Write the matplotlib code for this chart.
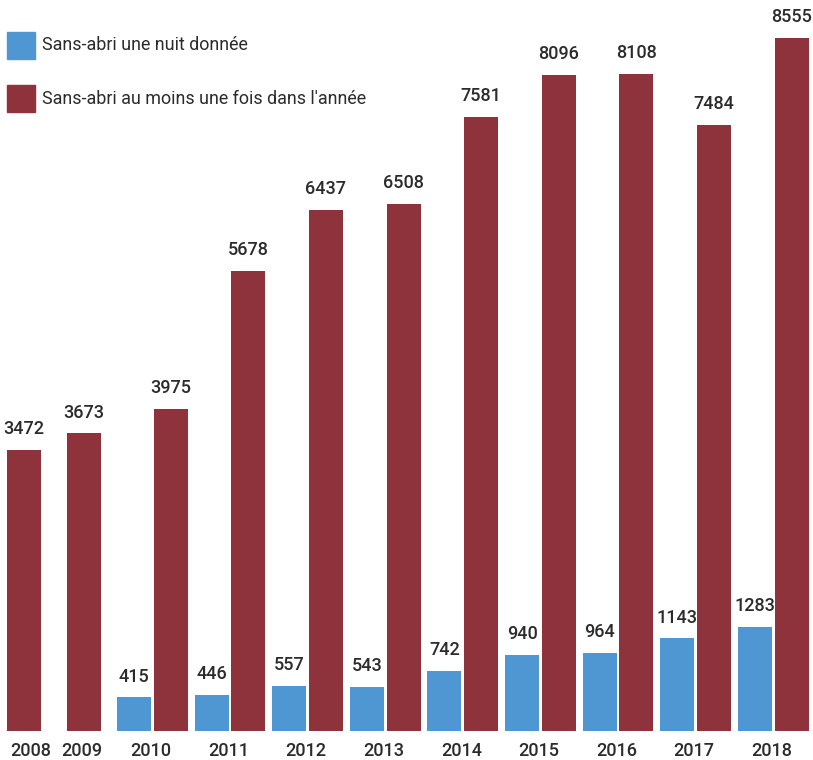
import matplotlib
matplotlib.use("Agg")
import matplotlib.pyplot as plt
from matplotlib.patches import Rectangle

years = ["2008", "2009", "2010", "2011", "2012", "2013", "2014", "2015", "2016", "2017", "2018"]
une_nuit = [None, None, 415, 446, 557, 543, 742, 940, 964, 1143, 1283]
annee = [3472, 3673, 3975, 5678, 6437, 6508, 7581, 8096, 8108, 7484, 8555]
series_names = ["Sans-abri une nuit donnée", "Sans-abri au moins une fois dans l'année"]

BLUE = "#4f97d2"
RED = "#8e323c"
TXT = "#2b2b2b"
FONT = ["Roboto", "DejaVu Sans"]

W, H = 813, 760
fig = plt.figure(figsize=(W / 100, H / 100), dpi=100)
base_px = 731
scale = (731 - 38) / 8555.0  # px per unit
ax = fig.add_axes([0, (H - base_px) / H, 1, base_px / H])
ax.set_xlim(0, W)
ax.set_ylim(0, base_px / scale)
ax.axis("off")

bw = 34
period = 77.6
blue_x, red_x, label_x = [], [], []
for i in range(len(years)):
    if une_nuit[i] is None:
        blue_x.append(None)
        rc = 24 + 60 * i
        red_x.append(rc)
        label_x.append(31 + 51 * i)
    else:
        bc = 134 + period * (i - 2)
        blue_x.append(bc)
        red_x.append(bc + 36.7)
        label_x.append(bc + 17)

NUM_KW = dict(fontsize=13, color=TXT, family=FONT, weight="medium")

for i in range(len(years)):
    if une_nuit[i] is not None:
        ax.bar(blue_x[i], une_nuit[i], width=bw, color=BLUE)
        ax.annotate(str(une_nuit[i]), (blue_x[i], une_nuit[i]), xytext=(0, 8.5),
                    textcoords="offset points", ha="center", va="bottom", **NUM_KW)
    ax.bar(red_x[i], annee[i], width=bw, color=RED)
    ax.annotate(str(annee[i]), (red_x[i], annee[i]), xytext=(0, 8.5),
                textcoords="offset points", ha="center", va="bottom", **NUM_KW)
    ax.annotate(years[i], (label_x[i], 0), xytext=(0, -14.5),
                textcoords="offset points", ha="center", va="center",
                annotation_clip=False, **NUM_KW)

# legend
for k, (name, col) in enumerate(zip(series_names, [BLUE, RED])):
    y_top = 32 + 53 * k
    fig.patches.append(Rectangle((7 / W, 1 - (y_top + 27) / H), 28 / W, 27 / H,
                                 transform=fig.transFigure, color=col))
    fig.text(42 / W, 1 - (y_top + 13.5) / H, name, ha="left", va="center",
             fontsize=12.9, color=TXT, family=FONT)

fig.savefig("out.png", dpi=100)
